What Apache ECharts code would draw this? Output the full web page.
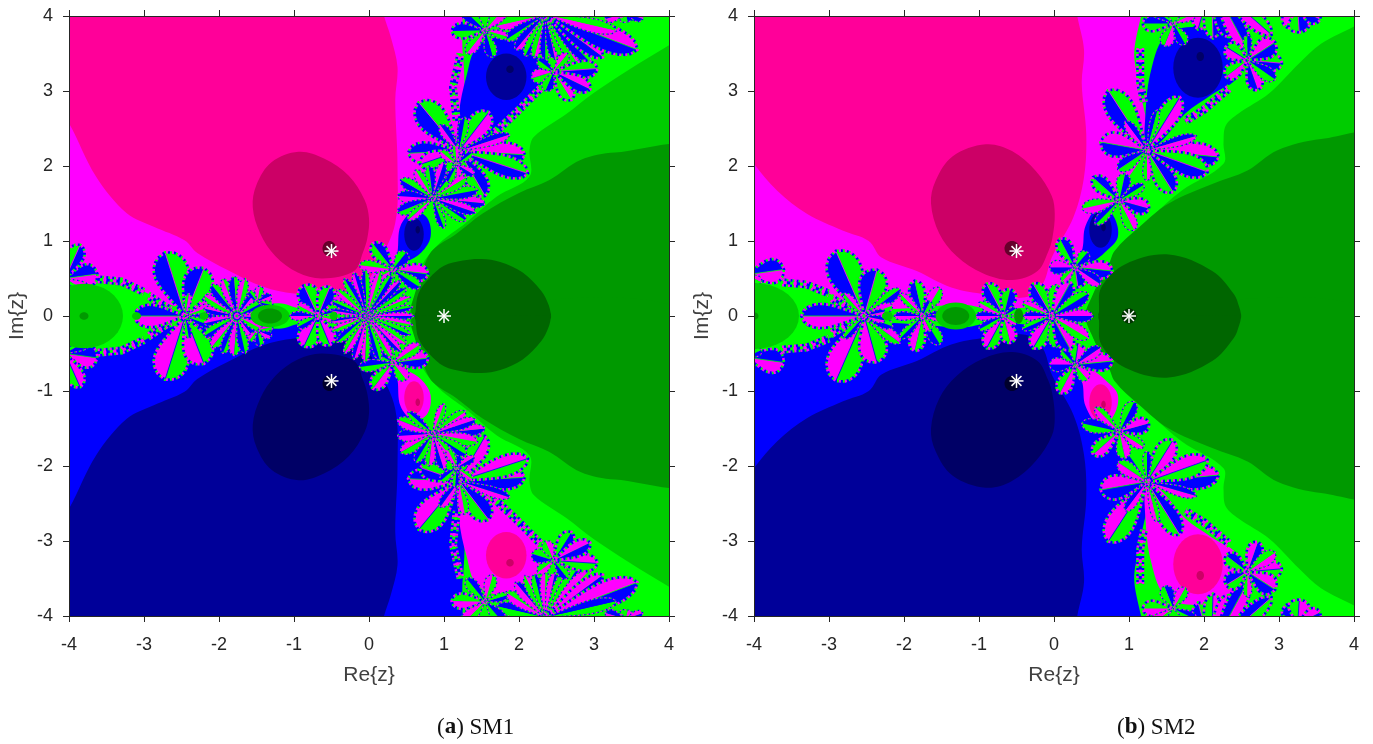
<!DOCTYPE html>
<html><head><meta charset="utf-8">
<style>html,body{margin:0;padding:0;background:#fff}#c{width:1373px;height:744px}</style>
<script src="https://cdn.jsdelivr.net/npm/echarts@6/dist/echarts.min.js"></script>
</head><body><div id="c"></div>
<script>
const tickLabels = [-4,-3,-2,-1,0,1,2,3,4];
const roots = [[1,0],[-0.5,0.866],[-0.5,-0.866]];

// --- SM1 regions (upper half; lower half is its conjugate)
const sm1Green2 = [[4.4,3.85],[4,3.61],[3.46,3.28],[2.99,2.97],[2.64,2.7],[2.2,2.39],[2.14,2.21],[2.14,1.86],[1.7,1.59],[1.29,1.24],[.94,.97],[.7,.66],[.62,.3],[.56,0],[4.4,0]];
const sm1Green3 = [[4.4,2.18],[3.28,2.18],[2.82,2.08],[2.4,1.81],[2,1.64],[1.52,1.37],[1.17,1.1],[.85,.88],[.73,.66],[.65,.44],[.62,0],[4.4,0]];
const sm1Green4 = [[.62,0],[.62,.06],[.66,.3],[.8,.5],[1,.67],[1.25,.74],[1.5,.76],[1.75,.72],[2.05,.58],[2.3,.33],[2.39,.16],[2.42,.05],[2.42,0]];
const sm1GreenBlob = [[-3.8,0,.52,.43,'#00cc00'],[-3.8,0,.06,.05,'#009900'],[-3.1,0,.06,.05,'#00cc00'],[-1.32,0,.26,.15,'#00cc00'],[-1.32,0,.16,.1,'#009900'],[-2.2,0,.06,.05,'#00cc00'],[-.47,0,.05,.06,'#00cc00']];
const sm1Magenta = [[-4.4,4.4],[1.05,4.4],[1.25,3.5],[1.25,2.4],[1.15,2.2],[.75,1.6],[.55,1],[.3,.6],[.1,.25],[-.5,.15],[-.9,.1],[-1.2,.17],[-2.45,.1],[-3.05,.35],[-3.3,.48],[-4.4,.5]];
const sm1Hot = [[-4.4,4.4],[-4.4,3.2],[-4,2.57],[-3.64,1.86],[-3.23,1.37],[-2.87,1.19],[-2.46,1.01],[-2.29,.84],[-1.88,.61],[-1.41,.39],[-1,.3],[-.41,.3],[-.06,.44],[.12,.7],[.35,1.24],[.38,2],[.35,2.88],[.38,3.32],[.29,3.72],[.2,4],[.1,4.4]];
const sm1Dark = [[-1.55,1.45],[-1.5,1.75],[-1.3,2.05],[-.94,2.19],[-.6,2.1],[-.27,1.87],[-.06,1.55],[0,1.3],[-.02,1.05],[-.08,.85],[-.2,.6],[-.62,.5],[-.95,.58],[-1.25,.8],[-1.45,1.1]];
const sm1Drops = [
  [[1.2,2.2],[1.2,2.7],[1.3,3.2],[1.45,3.6],[1.85,3.72],[2.2,3.5],[2.35,3.2],[2.1,2.9],[1.75,2.55],[1.45,2.3]],
  [[.33,.65],[.38,.85],[.42,1.2],[.6,1.4],[.78,1.3],[.82,1.05],[.7,.85],[.5,.72]]
];
const sm1Ovals = [[1.83,3.19,.27,.31],[.6,1.09,.13,.22]];
const sm1Dots = [[1.88,3.29,.05,.05],[.65,1.15,.03,.05]];
const sm1RootDot = [[-.53,.9,.09,.1]];
const sm1Fuzz = [
  [[1.22,3.5],[1.12,3.05],[1.17,2.6]],[[2.3,3.05],[1.95,2.7],[1.65,2.42]],
  [[-3.72,.5],[-3.3,.46],[-3.0,.32]],[[-2.95,.28],[-2.65,.08]]
];
const sm1Flowers = [
  [2.35,4.02,[[1.7,3.87,.08,'mg'],[1.82,3.68,.07,'gb'],[1.95,3.55,.07,'mb'],[2.08,3.46,.06,'bg'],[2.2,3.44,.06,'mg'],[2.35,3.4,.06,'gb'],[2.48,3.42,.06,'mb'],[2.62,3.4,.06,'bg'],[2.78,3.36,.07,'mg'],[2.95,3.38,.08,'gb'],[3.12,3.45,.09,'mb'],[3.58,3.55,.15,'mb'],[3.3,3.8,.08,'gm']]],
  [1.55,3.81,[[1.1,3.8,.09,'gb'],[1.3,3.5,.07,'mg'],[1.65,3.45,.07,'gb'],[1.25,4.1,.08,'bg'],[1.85,3.72,.05,'mg'],[1.8,4.1,.08,'gm']]],
  [2.46,3.26,[[3.05,3.3,.1,'gb'],[2.7,2.88,.09,'mg'],[2.17,3.17,.08,'gm'],[2.95,3.02,.09,'mb'],[2.35,3.0,.07,'bg'],[2.25,3.42,.06,'gb'],[2.65,3.5,.06,'mg']]],
  [3.42,4.04,[[3.15,3.96,.06,'mb'],[3.45,3.92,.08,'bg'],[3.65,3.96,.05,'mb']]],
  [1.2,2.2,[[.66,2.85,.17,'bg'],[1.6,2.72,.13,'gm'],[1.28,2.65,.06,'bg'],[.52,2.17,.12,'mb'],[.68,2.02,.1,'gm'],[2.08,2.15,.13,'mb'],[2.12,1.9,.12,'gb'],[1.55,1.6,.12,'bg'],[1.88,2.42,.06,'bm'],[1.15,1.78,.06,'mg'],[.95,2.55,.06,'mb']]],
  [.85,1.57,[[1.55,1.5,.07,'mb'],[1.45,1.68,.07,'gb'],[1.3,1.85,.07,'mg'],[1.15,1.95,.06,'bg'],[1,2.05,.06,'mb'],[.8,2,.06,'gb'],[.62,1.95,.06,'mg'],[.42,1.82,.07,'bg'],[.38,1.6,.07,'mb'],[.38,1.38,.07,'gb'],[.52,1.28,.05,'mg'],[1.29,1.27,.06,'bg'],[1.42,1.38,.06,'mb'],[1,1.17,.05,'gb']]],
  [1.17,2.02,[[.95,2.2,.05,'mg'],[1.05,1.78,.05,'gb'],[1.4,1.88,.05,'mb'],[1.38,2.18,.04,'bg'],[1.15,2.28,.04,'gm']]],
  [.32,.62,[[.05,.97,.09,'gb'],[-.13,.68,.07,'mg'],[.79,.56,.1,'mb'],[.5,.85,.08,'gb'],[.22,.4,.08,'gb'],[.68,.38,.07,'gb'],[.07,.48,.05,'mg']]],
  [-2.45,0,[[-3.13,0,.13,'mb'],[-2.72,.85,.2,'bg'],[-2.2,.64,.17,'bg'],[-1.98,.03,.05,'bm'],[-2.08,.14,.05,'mg'],[-2.4,.3,.04,'gm']]],
  [-1.76,0,[[-2.2,.1,.05,'bm'],[-2.2,.27,.06,'gm'],[-2.1,.42,.07,'bg'],[-1.95,.5,.06,'mg'],[-1.8,.53,.07,'bg'],[-1.65,.5,.06,'mg'],[-1.5,.33,.05,'bm'],[-1.42,.18,.05,'gb'],[-1.35,.03,.04,'mb']]],
  [-1.49,.19,[[-1.3,.27,.05,'bm'],[-1.45,.4,.05,'mg'],[-1.28,.14,.04,'gb'],[-1.6,.33,.04,'bg']]],
  [-.68,0,[[-1.06,0,.05,'mb'],[-.87,.41,.12,'bg'],[-.52,.39,.1,'gb'],[-.42,.06,.04,'bg'],[-.95,.15,.05,'gm']]],
  [-.03,0,[[.6,0,.04,'mb'],[.58,.12,.04,'gb'],[.55,.25,.05,'mg'],[.5,.37,.05,'bg'],[.42,.47,.05,'mb'],[.3,.55,.05,'gb'],[.15,.6,.05,'mg'],[-.05,.62,.05,'bg'],[-.2,.58,.05,'mb'],[-.33,.5,.05,'gb'],[-.43,.35,.05,'mg'],[-.5,.2,.04,'bg'],[-.52,.08,.03,'mb']]],
  [-4.05,.5,[[-3.62,.56,.13,'bm'],[-3.85,.95,.1,'gb'],[-3.72,.3,.08,'mg']]]
];

// --- SM2 regions
const sm2Green2 = [[4.4,4.1],[4,3.86],[3.56,3.63],[3.27,3.37],[2.87,2.97],[2.46,2.7],[2.29,2.54],[2.26,2.3],[2.26,2.03],[1.7,1.67],[1.3,1.32],[.95,.96],[.72,.69],[.49,.2],[.46,0],[4.4,0]];
const sm2Green3 = [[4.4,2.37],[3.56,2.36],[2.98,2.21],[2.58,1.94],[2.11,1.76],[1.53,1.5],[1.13,1.18],[.81,.87],[.72,.65],[.52,.29],[.46,0],[4.4,0]];
const sm2Green4 = [[.6,0],[.6,.06],[.63,.38],[.95,.69],[1.53,.82],[2.11,.6],[2.4,.29],[2.47,.12],[2.49,.04],[2.49,0]];
const sm2GreenBlob = [[-4,0,.6,.44,'#00cc00'],[-4,0,.06,.05,'#009900'],[-1.31,0,.27,.18,'#00cc00'],[-1.31,0,.18,.12,'#009900'],[-2.22,0,.07,.06,'#00cc00'],[-.47,0,.06,.1,'#009900']];
const sm2Magenta = [[-4.4,4.4],[1.07,4.4],[1.07,3.46],[1.15,3],[1.24,2.3],[.9,1.7],[.7,1.3],[.5,.9],[.1,.25],[-.5,.1],[-.9,.1],[-1.2,.15],[-2.5,.1],[-3.0,.3],[-3.6,.5],[-4.4,.55]];
const sm2Hot = [[-4.4,4.4],[-4.4,2.6],[-4,2.03],[-3.69,1.67],[-3.29,1.36],[-2.82,1.14],[-2.47,1],[-2.3,.78],[-1.83,.6],[-1.37,.38],[-.91,.29],[-.38,.25],[-.15,.43],[-.03,.78],[.26,1.32],[.4,1.85],[.43,2.43],[.37,3.1],[.4,3.55],[.31,4],[.25,4.4]];
const sm2Dark = [[-1.64,1.5],[-1.58,1.8],[-1.35,2.13],[-.91,2.29],[-.56,2.2],[-.24,1.93],[-.03,1.6],[.01,1.36],[-.02,1.05],[-.08,.85],[-.22,.6],[-.56,.48],[-.95,.57],[-1.3,.8],[-1.53,1.1]];
const sm2Drops = [
  [[1.24,2.21],[1.22,2.7],[1.3,3.3],[1.5,3.75],[1.95,3.85],[2.4,3.7],[2.45,3.2],[2.1,2.95],[1.75,2.7],[1.45,2.35]],
  [[.3,.7],[.38,.9],[.42,1.2],[.62,1.48],[.8,1.32],[.85,1.05],[.68,.85],[.5,.72]]
];
const sm2Ovals = [[1.92,3.31,.33,.4],[.62,1.15,.15,.24]];
const sm2Dots = [[1.95,3.46,.05,.06],[.66,1.18,.03,.05]];
const sm2RootDot = [[-.56,.9,.1,.1],[1,0,.1,.1]];
const sm2Fuzz = [
  [[1.15,3.6],[1.15,3.1],[1.2,2.85]],[[2.35,3.05],[2.0,2.75],[1.75,2.6]],
  [[-3.65,.45],[-3.3,.42],[-3.0,.3]],[[-2.98,.25],[-2.72,.08]]
];
const sm2Flowers = [
  [2.1,4.45,[[1.92,3.82,.11,'gm'],[2.12,3.7,.1,'bg'],[2.32,3.72,.09,'mb'],[2.58,3.55,.11,'bm'],[2.9,3.75,.1,'gm']]],
  [1.59,3.9,[[1.18,3.9,.09,'gb'],[1.47,3.6,.08,'mg'],[1.75,3.62,.07,'gb'],[1.25,4.15,.07,'bg'],[1.9,4.05,.06,'gm']]],
  [2.58,3.41,[[3.04,3.37,.1,'gb'],[2.72,3.01,.09,'mb'],[2.29,3.59,.1,'mg'],[2.95,3.65,.12,'mb'],[2.29,3.19,.09,'mg'],[2.95,3.15,.08,'bg'],[2.58,3.75,.05,'gb']]],
  [3.25,4.1,[[3.1,3.85,.1,'bm'],[3.27,3.78,.12,'bg'],[3.55,3.95,.09,'mb']]],
  [1.24,2.21,[[.72,3.01,.16,'bg'],[1.68,2.92,.12,'gm'],[1.38,2.75,.05,'bg'],[.62,2.32,.14,'bm'],[2.2,2.12,.14,'mb'],[2.05,1.92,.13,'gb'],[1.59,1.65,.12,'bg'],[1.24,1.8,.05,'mg'],[.85,1.95,.08,'gb'],[1.9,2.4,.06,'bm'],[.95,2.6,.06,'mb']]],
  [.87,1.54,[[.95,1.9,.08,'gb'],[.52,1.85,.09,'gb'],[1.27,1.43,.09,'mb'],[.37,1.43,.08,'mg'],[1.07,1.14,.08,'mg'],[1.2,1.75,.06,'bg'],[.55,1.22,.06,'gb']]],
  [.28,.65,[[.08,1.03,.09,'gb'],[.78,.6,.1,'mb'],[-.06,.65,.08,'bm'],[.45,.85,.07,'gb'],[.32,.38,.1,'bg'],[.62,.42,.07,'bm'],[.1,.45,.05,'mg']]],
  [-2.53,0,[[-3.37,0,.14,'mb'],[-2.91,.87,.2,'bg'],[-2.36,.62,.16,'bg'],[-2.05,.36,.07,'gb'],[-2.15,.14,.06,'mg'],[-2.8,.3,.05,'gm'],[-2.25,.06,.04,'bm']]],
  [-1.75,0,[[-2.13,0,.05,'mb'],[-1.86,.47,.09,'bg'],[-1.52,.38,.08,'mg'],[-1.45,.04,.04,'bm'],[-2.05,.3,.05,'gm'],[-1.65,.2,.05,'bg']]],
  [-.67,0,[[-1.05,0,.05,'mb'],[-.9,.43,.1,'bg'],[-.58,.36,.09,'gb'],[-.5,.1,.04,'bg'],[-1,.18,.05,'mg']]],
  [-.03,0,[[-.41,0,.05,'mb'],[.52,0,.07,'mb'],[-.28,.43,.1,'bg'],[.03,.42,.08,'gm'],[.22,.45,.1,'mb'],[.46,.3,.08,'gb'],[-.42,.18,.05,'gm']]],
  [-4.1,.55,[[-3.6,.62,.14,'bm'],[-3.9,.45,.05,'mg']]]
];

const CH = {b:'#0000ff',m:'#ff00ff',g:'#00ff00'};
const FLIP = {b:'m',m:'b',g:'g'};
const hi = {hot:'#ff0099',dark:'#cc0066',deep:'#66002b'};
const lo = {hot:'#000099',dark:'#000066',deep:'#00002b'};

function scene(d){
  const s=[];
  const poly=(pts,c,smooth)=>s.push({k:'poly',pts,c,smooth});
  const both=(pts,cu,cl,smooth=.35)=>{poly(pts,cu,smooth);poly(pts.map(p=>[p[0],-p[1]]),cl,smooth);};
  const oval=(e,c)=>s.push({k:'oval',e,c});
  s.push({k:'poly',pts:[[-4.4,4.4],[4.4,4.4],[4.4,-4.4],[-4.4,-4.4]],c:'#00ff00',smooth:0});
  both(d.g2,'#00cc00','#00cc00');both(d.g3,'#009900','#009900');
  both(d.mag,CH.m,CH.b);both(d.hot,hi.hot,lo.hot);both(d.dark,hi.dark,lo.dark);
  d.drops.forEach(p=>both(p,CH.b,CH.m));
  d.ovals.forEach(e=>{oval(e,lo.hot);oval([e[0],-e[1],e[2],e[3]],hi.hot);});
  d.dots.forEach(e=>{oval(e,lo.dark);oval([e[0],-e[1],e[2],e[3]],hi.dark);});
  d.fuzz.forEach(l=>{s.push({k:'fuzz',l,flip:false});s.push({k:'fuzz',l,flip:true});});
  d.flowers.forEach(f=>{s.push({k:'flower',f,flip:false});s.push({k:'flower',f,flip:true});});
  both(d.g4,'#006600','#006600');
  d.blobs.forEach(b=>oval(b,b[4]));
  d.rootDots.forEach(e=>{
    if(e[1]===0){oval(e,'#003300');return;}
    oval(e,hi.deep);oval([e[0],-e[1],e[2],e[3]],lo.deep);});
  return s;
}
const panels=[
 scene({g2:sm1Green2,g3:sm1Green3,g4:sm1Green4,blobs:sm1GreenBlob,mag:sm1Magenta,hot:sm1Hot,dark:sm1Dark,drops:sm1Drops,ovals:sm1Ovals,dots:sm1Dots,rootDots:sm1RootDot,fuzz:sm1Fuzz,flowers:sm1Flowers}),
 scene({g2:sm2Green2,g3:sm2Green3,g4:sm2Green4,blobs:sm2GreenBlob,mag:sm2Magenta,hot:sm2Hot,dark:sm2Dark,drops:sm2Drops,ovals:sm2Ovals,dots:sm2Dots,rootDots:sm2RootDot,fuzz:sm2Fuzz,flowers:sm2Flowers})
];

function fringe(points,width,closed,unit){
  const u=unit||2;
  const mk=(col,off)=>({type:'polyline',shape:{points:closed?points.concat([points[0]]):points},
    style:{fill:'none',stroke:col,lineWidth:width,lineDash:[u,u*2],lineDashOffset:off,lineCap:'butt'},silent:true});
  return [mk(CH.g,0),mk(CH.b,u),mk(CH.m,u*2)];
}
function lobe(p0,p1,w,side){
  const dx=p1[0]-p0[0],dy=p1[1]-p0[1];
  const nx=dy*side,ny=-dx*side,L=Math.hypot(dx,dy)||1;
  const pts=[];
  for(let i=0;i<=20;i++){const t=i/20;
    const f=Math.pow(Math.sin(Math.PI*Math.pow(t,1.9)),.55)*w/L;
    pts.push([p0[0]+dx*t+nx*f,p0[1]+dy*t+ny*f]);}
  return pts;
}
function render(shapes){
  return function(params,api){
    const o=shapes[api.value(2)];
    const cs=params.coordSys;
    const unit=cs.width/8;
    if(o.k==='poly'){
      return {type:'polygon',shape:{points:o.pts.map(p=>api.coord(p)),smooth:o.smooth},style:{fill:o.c},silent:true};
    }
    if(o.k==='oval'){
      const [x,y,rx,ry]=o.e;const pts=[];
      for(let i=0;i<36;i++){const a=i/36*2*Math.PI;pts.push(api.coord([x+rx*Math.cos(a),y+ry*Math.sin(a)]));}
      return {type:'polygon',shape:{points:pts},style:{fill:o.c},silent:true};
    }
    if(o.k==='fuzz'){
      const pts=o.l.map(p=>api.coord([p[0],o.flip?-p[1]:p[1]]));
      return {type:'group',children:fringe(pts,8,false,2).concat(fringe(pts,3,false,3.3))};
    }
    const f=o.f,sg=o.flip?-1:1,ch=[];
    const c0=api.coord([f[0],f[1]*sg]);
    f[2].forEach(p=>{
      const tip=api.coord([p[0],p[1]*sg]),w=p[2]*unit*1.15;
      let a=p[3][0],b=p[3][1];
      if(o.flip){a=FLIP[a];b=FLIP[b];}
      const side=o.flip?-1:1;
      const la=lobe(c0,tip,w,side),lb=lobe(c0,tip,w,-side);
      ch.push({type:'polygon',shape:{points:la},style:{fill:CH[a]},silent:true});
      ch.push({type:'polygon',shape:{points:lb},style:{fill:CH[b]},silent:true});
      if(p[2]>=.1){
        const third=['b','m','g'].find(k=>k!==a&&k!==b);
        ch.push({type:'line',shape:{x1:c0[0],y1:c0[1],x2:tip[0],y2:tip[1]},style:{stroke:CH[third],lineWidth:.8},silent:true});
      }
      const outline=la.concat(lb.slice(1,-1).reverse());
      fringe(outline,p[2]>=.09?2.6:1.2,true,p[2]>=.09?2:1.5).forEach(e=>ch.push(e));
    });
    return {type:'group',children:ch};
  };
}
function renderStar(params,api){
  const c=api.coord([api.value(0),api.value(1)]),r=7,ch=[];
  [0,45,90,135].forEach(a=>{const t=a*Math.PI/180,dx=r*Math.cos(t),dy=r*Math.sin(t);
    ch.push({type:'line',shape:{x1:c[0]-dx,y1:c[1]-dy,x2:c[0]+dx,y2:c[1]+dy},style:{stroke:'#fff',lineWidth:1.5}});});
  return {type:'group',children:ch};
}

const FONT='"Liberation Sans",Arial,sans-serif';
const axisCommon={min:-4,max:4,interval:1,z:6,
  axisLine:{show:true,onZero:false,lineStyle:{color:'#262626',width:1}},
  axisTick:{show:true,inside:false,length:6,lineStyle:{color:'#262626',width:1}},
  splitLine:{show:false}};
const xLabel={show:true,color:'#262626',fontFamily:FONT,fontSize:18,margin:20,formatter:v=>String(v)};
const yLabel={show:true,color:'#262626',fontFamily:FONT,fontSize:18,margin:16,formatter:v=>String(v)};
const nameStyle={color:'#404040',fontFamily:FONT,fontSize:21};
const grids=[{left:69,top:16,width:600,height:600},{left:754,top:16,width:600,height:600}];
const xAxes=[],yAxes=[];
grids.forEach((g,i)=>{
  xAxes.push({...axisCommon,type:'value',gridIndex:i,position:'bottom',axisLabel:xLabel,name:'Re{z}',nameLocation:'middle',nameGap:49,nameTextStyle:nameStyle});
  xAxes.push({...axisCommon,type:'value',gridIndex:i,position:'top',axisLabel:{show:false}});
  yAxes.push({...axisCommon,type:'value',gridIndex:i,position:'left',axisLabel:yLabel,name:'Im{z}',nameLocation:'middle',nameGap:41,nameTextStyle:nameStyle});
  yAxes.push({...axisCommon,type:'value',gridIndex:i,position:'right',axisLabel:{show:false}});
});
const series=[];
panels.forEach((sh,i)=>{
  series.push({type:'custom',coordinateSystem:'cartesian2d',xAxisIndex:i*2,yAxisIndex:i*2,clip:true,silent:true,animation:false,
    renderItem:render(sh),encode:{x:0,y:1},data:sh.map((_,k)=>[0,0,k]),z:2});
  series.push({type:'custom',coordinateSystem:'cartesian2d',xAxisIndex:i*2,yAxisIndex:i*2,silent:true,animation:false,
    renderItem:renderStar,encode:{x:0,y:1},data:roots,z:3});
});
const rich={n:{fontFamily:'"Liberation Serif",serif',fontSize:23,fontWeight:'normal',color:'#111'},a:{fontFamily:'"Liberation Serif",serif',fontSize:23,fontWeight:'bold',color:'#111'}};
const chart=echarts.init(document.getElementById('c'),null,{renderer:'canvas'});
chart.setOption({animation:false,backgroundColor:'#fff',grid:grids,xAxis:xAxes,yAxis:yAxes,series,
  title:[
   {text:'{n|(}{a|a}{n|) SM1}',left:437,top:716,textStyle:{rich},padding:0},
   {text:'{n|(}{a|b}{n|) SM2}',left:1117,top:716,textStyle:{rich},padding:0}
  ]});
</script></body></html>
